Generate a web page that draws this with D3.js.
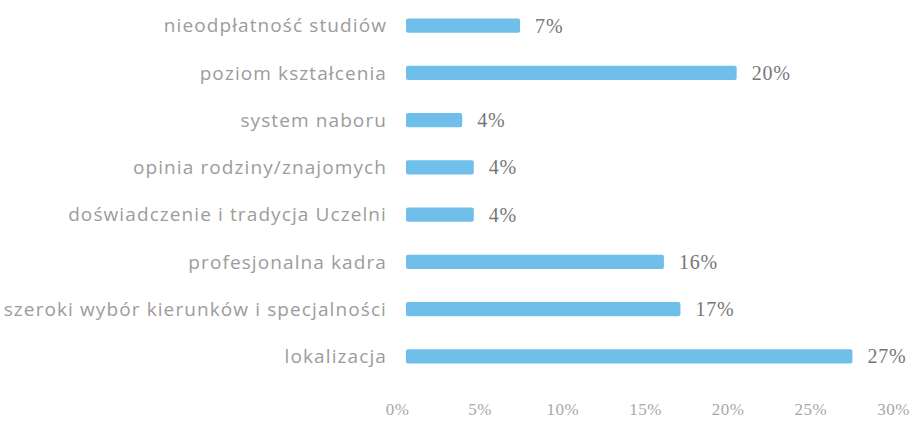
<!DOCTYPE html>
<html>
<head>
<meta charset="utf-8">
<script src="https://d3js.org/d3.v7.min.js"></script>
<style>
  body { margin: 0; background: #fff; }
  .cat { font-family: 'Open Sans', sans-serif; font-size: 19px; fill: #9c9c9c; letter-spacing: 1.1px; }
  .val { font-family: 'Liberation Serif', serif; font-size: 20px; fill: #777; letter-spacing: 0.8px; }
  .tick text { font-family: 'Liberation Serif', serif; font-size: 17px; fill: #a8a8a8; letter-spacing: 0.5px; }
</style>
</head>
<body>
<svg id="chart" width="917" height="421"></svg>
<script>
const categories = [
  "nieodpłatność studiów",
  "poziom kształcenia",
  "system naboru",
  "opinia rodziny/znajomych",
  "doświadczenie i tradycja Uczelni",
  "profesjonalna kadra",
  "szeroki wybór kierunków i specjalności",
  "lokalizacja"
];
const values = [6.9, 20, 3.4, 4.1, 4.1, 15.6, 16.6, 27];
const valueLabels = ["7%", "20%", "4%", "4%", "4%", "16%", "17%", "27%"];
const ticks = [0, 5, 10, 15, 20, 25, 30];

const svg = d3.select("#chart");

const x = d3.scaleLinear().domain([0, 30]).range([406, 902]);
const y = d3.scaleBand().domain(categories).range([2, 380]).paddingInner(0.7).paddingOuter(0.35);

// bars
svg.append("g")
  .selectAll("rect")
  .data(values)
  .join("rect")
  .attr("x", x(0))
  .attr("y", (d, i) => y(categories[i]))
  .attr("width", d => x(d) - x(0))
  .attr("height", y.bandwidth())
  .attr("rx", 2)
  .attr("fill", "#6fbfea");

// value labels
svg.append("g")
  .selectAll("text")
  .data(values)
  .join("text")
  .attr("class", "val")
  .attr("x", d => x(d) + 15)
  .attr("y", (d, i) => y(categories[i]) + y.bandwidth() / 2)
  .attr("dy", "0.35em")
  .text((d, i) => valueLabels[i]);

// category labels
svg.append("g")
  .selectAll("text")
  .data(categories)
  .join("text")
  .attr("class", "cat")
  .attr("x", 387)
  .attr("y", d => y(d) + y.bandwidth() / 2)
  .attr("dy", "0.35em")
  .attr("text-anchor", "end")
  .text(d => d);

// x axis
const axis = d3.axisBottom(x)
  .tickValues(ticks)
  .tickSize(0)
  .tickPadding(0)
  .tickFormat(d => d + "%");

svg.append("g")
  .attr("transform", "translate(-9,403)")
  .call(axis)
  .call(g => g.select(".domain").remove());
</script>
</body>
</html>
